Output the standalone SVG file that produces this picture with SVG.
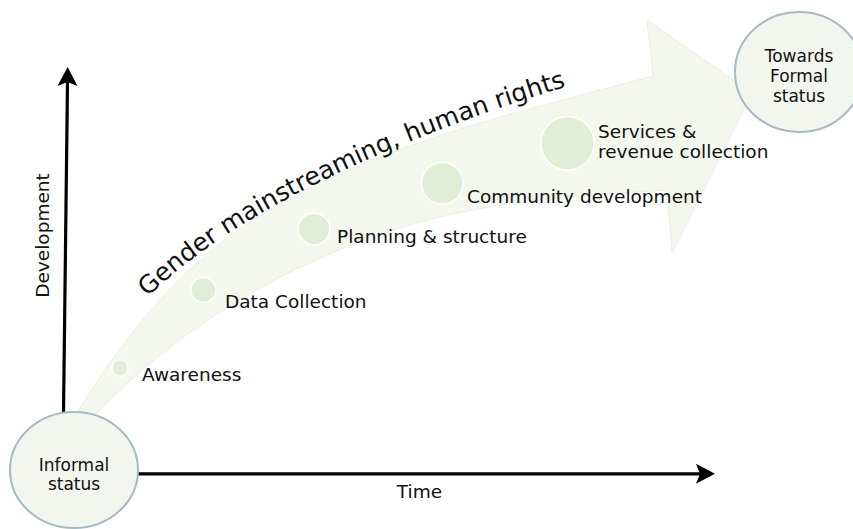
<svg xmlns="http://www.w3.org/2000/svg" width="853" height="529" viewBox="0 0 853 529">
<style>
text{font-family:"DejaVu Sans","Liberation Sans",sans-serif;fill:#111}
.lbl{font-size:18.5px}
.ctext{font-size:17px;text-anchor:middle}
.step{fill:#e2edd6;stroke:#ffffff;stroke-width:1.5}
.state{fill:#f3f6ee;stroke:#a5bac4;stroke-width:2}
.axis{stroke:#000;stroke-width:3.2;fill:none;marker-end:url(#ah)}
</style>
<defs>
<marker id="ah" markerUnits="userSpaceOnUse" viewBox="-5 -11 22 22" markerWidth="22" markerHeight="22" refX="0" refY="0" orient="auto" overflow="visible">
<path d="M-4,-10 L15,0 L-4,10 L0,0 Z" fill="#000"/>
</marker>
<path id="tp" d="M148,297 C240,205 420,130 575,84"/>
</defs>
<rect width="853" height="529" fill="#fff"/>
<g id="band">
<path d="M71,423 L77,413 C122,339 179.5,266.5 253,220 C373,144 516,113 653,76 L647,20 L752,93 L672,253 L667,190 C577,196 486,201 400,228 C287,263 178,328 97,413 L88,423 Z" fill="#f3f7ee" stroke="#e3e9dc" stroke-width="0.7"/>
<text style="font-size:25px"><textPath href="#tp">Gender mainstreaming, human rights</textPath></text>
</g>
<g id="awareness"><circle class="step" cx="120" cy="368" r="8.3"/><text class="lbl" x="142" y="381">Awareness</text></g>
<g id="data-collection"><circle class="step" cx="203.3" cy="290" r="12.5"/><text class="lbl" x="225" y="308">Data Collection</text></g>
<g id="planning"><circle class="step" cx="314" cy="229" r="15.8"/><text class="lbl" x="337" y="243">Planning &amp; structure</text></g>
<g id="community"><circle class="step" cx="442.3" cy="183.3" r="20.8"/><text class="lbl" x="467" y="203">Community development</text></g>
<g id="services"><circle class="step" cx="567.5" cy="143.3" r="26.7"/><text class="lbl" x="598" y="138">Services &amp;</text><text class="lbl" x="598" y="158">revenue collection</text></g>
<g id="connectors">
<line class="axis" x1="63.5" y1="413" x2="67.5" y2="82"/>
<line class="axis" x1="138" y1="473.8" x2="700" y2="473.8"/>
</g>
<g id="axis-labels">
<text class="lbl" text-anchor="middle" transform="translate(49,235.5) rotate(-90)">Development</text>
<text class="lbl" text-anchor="middle" x="419.5" y="498">Time</text>
</g>
<g id="informal"><ellipse class="state" cx="74" cy="470" rx="64" ry="58"/><text class="ctext" x="74" y="471">Informal</text><text class="ctext" x="74" y="490">status</text></g>
<g id="formal"><ellipse class="state" cx="799" cy="72" rx="64" ry="60"/><text class="ctext" x="799" y="61.5">Towards</text><text class="ctext" x="799" y="81.5">Formal</text><text class="ctext" x="799" y="101.5">status</text></g>
</svg>
